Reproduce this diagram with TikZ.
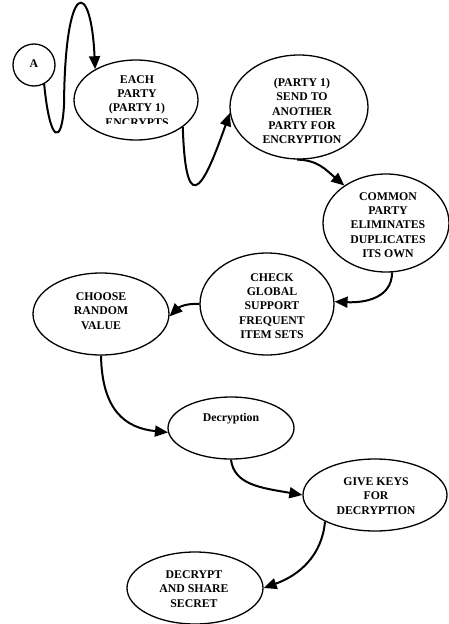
\documentclass[tikz,border=0pt]{standalone}
\usepackage{fontspec}
\setmainfont{Liberation Serif}
\usetikzlibrary{shapes.geometric,arrows.meta}
\begin{document}
\begin{tikzpicture}[x=1pt,y=-1pt,
  stage/.style={draw, ellipse, line width=1.3pt, inner sep=0pt},
  steptext/.style={font=\bfseries\fontsize{11.8}{14.2}\selectfont, align=center, inner sep=0pt},
  flow/.style={line width=2pt, -{Triangle[length=13pt,width=11pt]}}]
\useasboundingbox (0,0) rectangle (449,624);

% stages
\node[stage, circle, minimum size=42pt] (A) at (34,65) {};
\node[stage, minimum width=124pt, minimum height=80pt] (each) at (136,100) {};
\node[stage, minimum width=138pt, minimum height=104pt] (send) at (299,107) {};
\node[stage, minimum width=126pt, minimum height=98pt] (common) at (386,223) {};
\node[stage, minimum width=134pt, minimum height=102pt] (check) at (267,304) {};
\node[stage, minimum width=136pt, minimum height=82pt] (choose) at (101,314) {};
\node[stage, minimum width=126pt, minimum height=62pt] (decr) at (231,428) {};
\node[stage, minimum width=144pt, minimum height=72pt] (give) at (375,495) {};
\node[stage, minimum width=136pt, minimum height=72pt] (share) at (195,588) {};

% texts
\node[steptext] (tA) at (34,64) {A};
\begin{scope}
  \clip (60,50) rectangle (215,123.5);
  \node[steptext] (teach) at (137,101) {EACH\\PARTY\\(PARTY 1)\\ENCRYPTS};
\end{scope}
\node[steptext] (tsend) at (302,111) {(PARTY 1)\\SEND TO\\ANOTHER\\PARTY FOR\\ENCRYPTION};
\node[steptext] (tcommon) at (388,225) {COMMON\\PARTY\\ELIMINATES\\DUPLICATES\\ITS OWN};
\node[steptext] (tcheck) at (272,306) {CHECK\\GLOBAL\\SUPPORT\\FREQUENT\\ITEM SETS};
\node[steptext] (tchoose) at (101,311) {CHOOSE\\RANDOM\\VALUE};
\node[steptext] (tdecr) at (231,419) {Decryption};
\node[steptext] (tgive) at (376,496) {GIVE KEYS\\FOR\\DECRYPTION};
\node[steptext] (tshare) at (194,589) {DECRYPT\\AND SHARE\\SECRET};

% connectors
\coordinate (loopA) at (64,105);
\draw[flow] (A.-62) .. controls (50,145) and (62,145) .. (loopA)
                    .. controls (65,-22) and (91,-22) .. (each.143);
\draw[flow] (each.-30) .. controls (186,230) and (208,175) .. (send.185);
\draw[flow] (send.-92) .. controls (318,160) and (326,170) .. (common.138);
\draw[flow] (common.-83) .. controls (392,298) and (365,303) .. (check.2);
\draw[flow] (check.180) .. controls (185,303) and (178,308) .. (choose.-2);
\draw[flow] (choose.-90) .. controls (102,410) and (125,428) .. (decr.184);
\draw[flow] (decr.-90) .. controls (234,485) and (262,488) .. (give.180);
\draw[flow] (give.-152) .. controls (322,555) and (300,575) .. (share.0);
\end{tikzpicture}
\end{document}
